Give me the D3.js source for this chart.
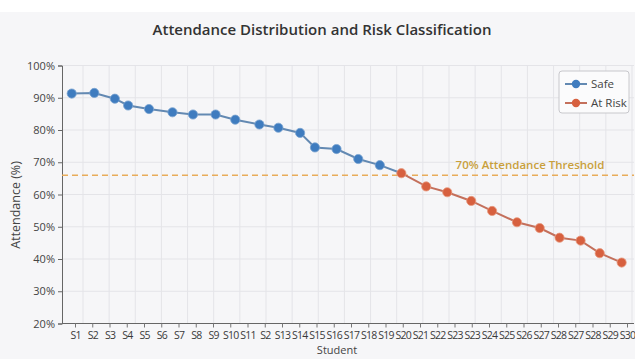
<!DOCTYPE html>
<html>
<head>
<meta charset="utf-8">
<script src="https://cdn.jsdelivr.net/npm/d3@7"></script>
<style>
  html, body { margin: 0; padding: 0; background: #fff; }
  svg { display: block; font-family: "Open Sans", "Noto Sans", sans-serif; }
</style>
</head>
<body>
<div id="chart"></div>
<script>
// tick labels as printed under the x axis (typos kept)
const tickLabels = ["S1","S2","S3","S4","S5","S6","S7","S8","S9","S10","S11","S2","S13","S14","S15","S16","S17",
  "S18","S19","S20","S21","S22","S23","S23","S24","S25","S26","S27","S28","S27","S28","S29","S30"];

// where each point sits along the tick axis (in tick units) and its attendance
const safePos = [-0.19, 1.12, 2.31, 3.08, 4.29, 5.65, 6.84, 8.15, 9.29, 10.69, 11.79, 13.05, 13.91, 15.16, 16.42, 17.67];
const safeVals = [91.3, 91.5, 89.7, 87.6, 86.5, 85.5, 84.8, 84.8, 83.2, 81.7, 80.7, 79.1, 74.6, 74.1, 71.0, 69.1];
const riskPos = [18.92, 20.36, 21.58, 22.97, 24.18, 25.62, 26.94, 28.09, 29.31, 30.42, 31.69];
const riskVals = [66.6, 62.5, 60.7, 58.0, 54.9, 51.4, 49.6, 46.6, 45.7, 41.8, 38.9];

const yTicks = [20, 30, 40, 50, 60, 70, 80, 90, 100];
const thresholdValue = 66;
const thresholdLabel = "70% Attendance Threshold";

const W = 635, H = 359;
const plotLeft = 62, plotTop = 65.5, plotBottom = 323.5, plotRight = 634;

const svg = d3.select("#chart").append("svg")
    .attr("width", W)
    .attr("height", H);

// panel background (white strip on top like the screenshot)
svg.append("rect").attr("x", 0).attr("y", 12).attr("width", W).attr("height", H - 12).attr("fill", "#f6f6f8");

const x = d3.scaleLinear().domain([0, tickLabels.length - 1]).range([75, 627]);
const y = d3.scaleLinear().domain([20, 100]).range([plotBottom, plotTop]);
const xGrid = d3.scaleLinear().domain([0, 21]).range([83, 632]);

// grid
const grid = svg.append("g").attr("class", "grid");
grid.selectAll(".hgrid")
    .data(yTicks.slice(1))
    .enter().append("line")
    .attr("x1", plotLeft).attr("x2", plotRight)
    .attr("y1", d => y(d)).attr("y2", d => y(d))
    .style("stroke", "#e4e4e8").style("stroke-width", 1);
grid.selectAll(".vgrid")
    .data(d3.range(22))
    .enter().append("line")
    .attr("x1", d => xGrid(d)).attr("x2", d => xGrid(d))
    .attr("y1", plotTop).attr("y2", plotBottom)
    .style("stroke", "#e4e4e8").style("stroke-width", 1);

// title
svg.append("text")
    .attr("x", 322).attr("y", 35)
    .attr("text-anchor", "middle")
    .style("font-size", "15px")
    .style("font-weight", 600)
    .style("fill", "#333")
    .text("Attendance Distribution and Risk Classification");

// axes
const gy = svg.append("g")
    .attr("transform", `translate(${plotLeft},0)`)
    .call(d3.axisLeft(y).tickValues(yTicks).tickFormat(d => d + "%").tickSize(4));
gy.select(".domain").style("stroke", "#666");
gy.selectAll(".tick line").style("stroke", "#666");
gy.selectAll(".tick text").style("font-size", "11px").style("fill", "#444")
    .style("font-family", "Open Sans, sans-serif").attr("x", -7);

const gx = svg.append("g")
    .attr("transform", `translate(0,${plotBottom})`)
    .call(d3.axisBottom(x).tickValues(d3.range(tickLabels.length)).tickFormat(i => tickLabels[i]).tickSize(4));
gx.select(".domain").attr("d", `M${plotLeft},0H${plotRight}`).style("stroke", "#666");
gx.selectAll(".tick line").style("stroke", "#777");
gx.selectAll(".tick text").style("font-size", "10.5px").style("fill", "#3a3a3a")
    .style("letter-spacing", "-0.8px")
    .style("font-family", "Open Sans, sans-serif").attr("y", 8);

svg.append("text")
    .attr("transform", "translate(20,205) rotate(-90)")
    .attr("text-anchor", "middle")
    .style("font-size", "12.5px").style("fill", "#444")
    .text("Attendance (%)");

svg.append("text")
    .attr("x", 337).attr("y", 354)
    .attr("text-anchor", "middle")
    .style("font-size", "11px").style("fill", "#444")
    .text("Student");

// threshold
svg.append("line")
    .attr("x1", plotLeft).attr("x2", plotRight)
    .attr("y1", y(thresholdValue)).attr("y2", y(thresholdValue))
    .style("stroke", "#e8ac5a").style("stroke-width", 1.5)
    .style("stroke-dasharray", "6,4");
svg.append("text")
    .attr("x", 530).attr("y", 169)
    .attr("text-anchor", "middle")
    .style("font-size", "11.5px").style("font-weight", 600).style("fill", "#c9a03c")
    .text(thresholdLabel);

// series
const safe = safePos.map((p, i) => ({ pos: p, value: safeVals[i] }));
const risk = riskPos.map((p, i) => ({ pos: p, value: riskVals[i] }));

const line = d3.line().x(d => x(d.pos)).y(d => y(d.value));

svg.append("path")
    .attr("d", line(safe.concat([risk[0]])))
    .style("fill", "none").style("stroke", "#6389b2").style("stroke-width", 2);
svg.append("path")
    .attr("d", line(risk))
    .style("fill", "none").style("stroke", "#c4705c").style("stroke-width", 2);

svg.selectAll(".safe-pt")
    .data(safe)
    .enter().append("circle")
    .attr("cx", d => x(d.pos)).attr("cy", d => y(d.value))
    .attr("r", 4.6)
    .style("fill", "#3f7cbf").style("stroke", "#7aa3d1").style("stroke-width", 0.8);
svg.selectAll(".risk-pt")
    .data(risk)
    .enter().append("circle")
    .attr("cx", d => x(d.pos)).attr("cy", d => y(d.value))
    .attr("r", 4.6)
    .style("fill", "#d7603f").style("stroke", "#e79a80").style("stroke-width", 0.8);

// legend
const lg = svg.append("g").attr("transform", "translate(559,71)");
lg.append("rect")
    .attr("width", 70).attr("height", 42).attr("rx", 3)
    .style("fill", "#fbfbfc").style("stroke", "#c8c8cc").style("stroke-width", 1);
const items = [{ name: "Safe", color: "#3f7cbf", line: "#6389b2" }, { name: "At Risk", color: "#d7603f", line: "#c4705c" }];
items.forEach((it, i) => {
    const ly = 13 + i * 19;
    lg.append("line").attr("x1", 6).attr("x2", 28).attr("y1", ly).attr("y2", ly)
        .style("stroke", it.line).style("stroke-width", 2);
    lg.append("circle").attr("cx", 17).attr("cy", ly).attr("r", 4.2).style("fill", it.color);
    lg.append("text").attr("x", 32).attr("y", ly + 4)
        .style("font-size", "11.5px").style("fill", "#444").text(it.name);
});
</script>
</body>
</html>
